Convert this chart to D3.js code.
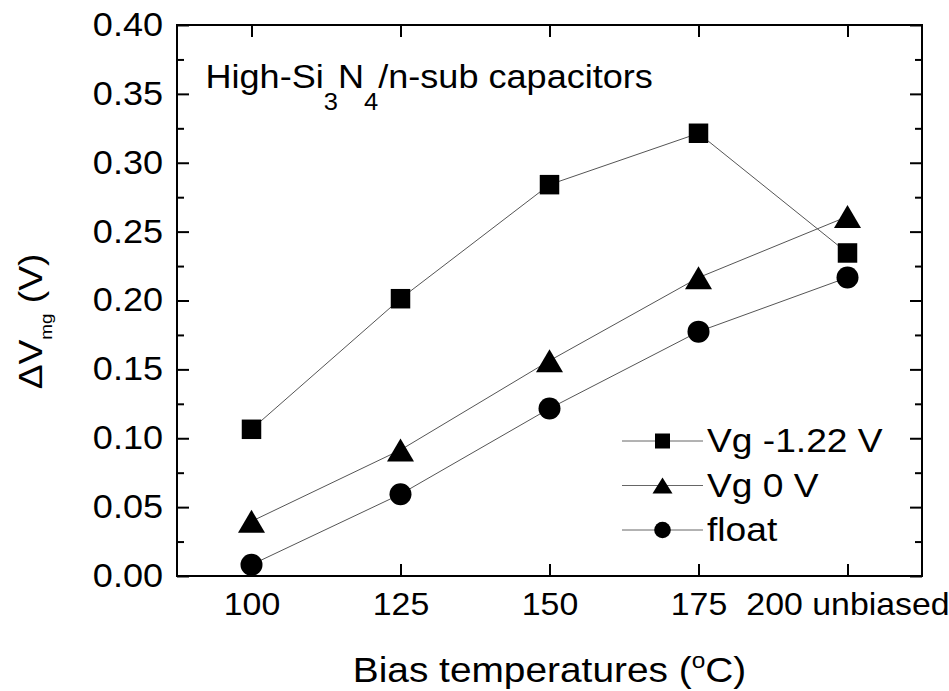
<!DOCTYPE html>
<html>
<head>
<meta charset="utf-8">
<script src="https://cdn.jsdelivr.net/npm/d3@7"></script>
<style>
  html, body { margin: 0; padding: 0; background: #fff; }
  svg { display: block; }
  text { font-family: "Liberation Sans", Arial, Helvetica, sans-serif; fill: #000; }
</style>
</head>
<body>
<svg id="chart" width="949" height="691"></svg>
<script>
// ---- data ----
const temperatures = [100, 125, 150, 175, 200];
const xTickLabels = ["100", "125", "150", "175", "200 unbiased"];
const yTicks = [0, 0.05, 0.10, 0.15, 0.20, 0.25, 0.30, 0.35, 0.40];
const seriesNames = ["Vg -1.22 V", "Vg 0 V", "float"];
const seriesSymbols = ["square", "triangle", "circle"];
const vgNeg122 = [0.1065, 0.2013, 0.2841, 0.3214, 0.2345];
const vg0 = [0.0397, 0.0915, 0.1563, 0.2166, 0.2610];
const floatV = [0.0082, 0.0594, 0.1216, 0.1774, 0.2167];
const seriesValues = [vgNeg122, vg0, floatV];

// ---- layout ----
const L = 177, R = 922, T = 25, B = 576;
const SX = 1.11; // horizontal glyph widening to match the reference font
const svg = d3.select("#chart");

const x = d3.scaleLinear().domain([87.5, 212.5]).range([L, R]);
const y = d3.scaleLinear().domain([0, 0.4]).range([B, T]);

function symbolPath(type, s) {
  if (type === "square") {
    const h = s.sq / 2;
    return `M${-h},${-h}H${h}V${h}H${-h}Z`;
  } else if (type === "triangle") {
    const w = s.tw / 2, h = s.th / 2;
    return `M0,${-h}L${w},${h}L${-w},${h}Z`;
  } else {
    const r = s.cr;
    return `M${r},0A${r},${r} 0 1,1 ${-r},0A${r},${r} 0 1,1 ${r},0Z`;
  }
}
const bigSym = { sq: 19.5, tw: 27, th: 23, cr: 11 };
const smallSym = { sq: 15, tw: 20, th: 16, cr: 8.3 };

// ---- axes ----
const tickW = 2;
function styleAxis(g) {
  g.select(".domain").remove();
  g.selectAll("line").attr("stroke", "#000").attr("stroke-width", tickW);
}
// left axis (major with labels)
const gLeft = svg.append("g").attr("transform", `translate(${L},0)`)
  .call(d3.axisLeft(y).tickValues(yTicks).tickFormat(d3.format(".2f"))
    .tickSizeInner(-12).tickSizeOuter(0).tickPadding(12.6));
styleAxis(gLeft);
gLeft.selectAll("text").attr("font-size", 32.5)
  .style("font-family", '"Liberation Sans", Arial, sans-serif')
  .attr("transform", `scale(${SX},1)`);
// left minor
const minorY = d3.range(0.025, 0.4, 0.05);
svg.append("g").attr("transform", `translate(${L},0)`)
  .call(d3.axisLeft(y).tickValues(minorY).tickFormat("").tickSizeInner(-7).tickSizeOuter(0))
  .call(styleAxis);
// right axis
svg.append("g").attr("transform", `translate(${R},0)`)
  .call(d3.axisRight(y).tickValues(yTicks).tickFormat("").tickSizeInner(-12).tickSizeOuter(0))
  .call(styleAxis);
svg.append("g").attr("transform", `translate(${R},0)`)
  .call(d3.axisRight(y).tickValues(minorY).tickFormat("").tickSizeInner(-7).tickSizeOuter(0))
  .call(styleAxis);
// bottom axis
const gBottom = svg.append("g").attr("transform", `translate(0,${B})`)
  .call(d3.axisBottom(x).tickValues(temperatures).tickFormat((d, i) => xTickLabels[i])
    .tickSizeInner(-12).tickSizeOuter(0).tickPadding(17));
styleAxis(gBottom);
gBottom.selectAll("text").attr("font-size", 30.5)
  .style("font-family", '"Liberation Sans", Arial, sans-serif')
  .attr("transform", `scale(${SX},1)`)
  .attr("x", function() { return 0; });
// top axis
svg.append("g").attr("transform", `translate(0,${T})`)
  .call(d3.axisTop(x).tickValues(temperatures).tickFormat("").tickSizeInner(-12).tickSizeOuter(0))
  .call(styleAxis);
// frame
svg.append("rect").attr("x", L).attr("y", T).attr("width", R - L).attr("height", B - T)
  .attr("fill", "none").attr("stroke", "#000").attr("stroke-width", 2);

// ---- series ----
const line = d3.line().x((d, i) => x(temperatures[i])).y(d => y(d));
seriesValues.forEach((vals, si) => {
  svg.append("path").datum(vals).attr("d", line)
    .attr("fill", "none").attr("stroke", "#555").attr("stroke-width", 1);
});
seriesValues.forEach((vals, si) => {
  svg.append("g").selectAll("path").data(vals).join("path")
    .attr("transform", (d, i) => `translate(${x(temperatures[i])},${y(d)})`)
    .attr("d", symbolPath(seriesSymbols[si], bigSym))
    .attr("fill", "#000");
});

// ---- legend ----
const legendRows = [441, 485.5, 530];
const lg = svg.append("g");
seriesNames.forEach((name, i) => {
  const yy = legendRows[i];
  lg.append("line").attr("x1", 622).attr("x2", 703).attr("y1", yy).attr("y2", yy)
    .attr("stroke", "#666").attr("stroke-width", 1);
  lg.append("path").attr("transform", `translate(662.5,${yy})`)
    .attr("d", symbolPath(seriesSymbols[i], smallSym)).attr("fill", "#000");
  lg.append("text").attr("transform", `translate(707,${yy + 11}) scale(${SX},1)`)
    .attr("font-size", 33.5).text(name);
});

// ---- annotation ----
const ann = svg.append("text").attr("transform", `translate(205.5,88.3) scale(${SX},1)`)
  .attr("font-size", 32.5);
ann.append("tspan").text("High-Si");
ann.append("tspan").attr("font-size", 23).attr("dy", 21.7).text("3");
ann.append("tspan").attr("dy", -21.7).text("N");
ann.append("tspan").attr("font-size", 23).attr("dy", 21.7).text("4");
ann.append("tspan").attr("dy", -21.7).text("/n-sub capacitors");

// ---- axis titles ----
const xt = svg.append("text").attr("transform", `translate(549.5,682) scale(${SX},1)`)
  .attr("text-anchor", "middle").attr("font-size", 35);
xt.append("tspan").text("Bias temperatures (");
xt.append("tspan").attr("font-size", 22).attr("dy", -14).text("o");
xt.append("tspan").attr("dy", 14).text("C)");

const yt = svg.append("text").attr("transform", `translate(42,321.5) rotate(-90) scale(${SX},1)`)
  .attr("text-anchor", "middle").attr("font-size", 33.5);
yt.append("tspan").text("\u0394V");
yt.append("tspan").attr("font-size", 17).attr("dy", 9.5).text("mg");
yt.append("tspan").attr("dy", -9.5).text(" (V)");
</script>
</body>
</html>
